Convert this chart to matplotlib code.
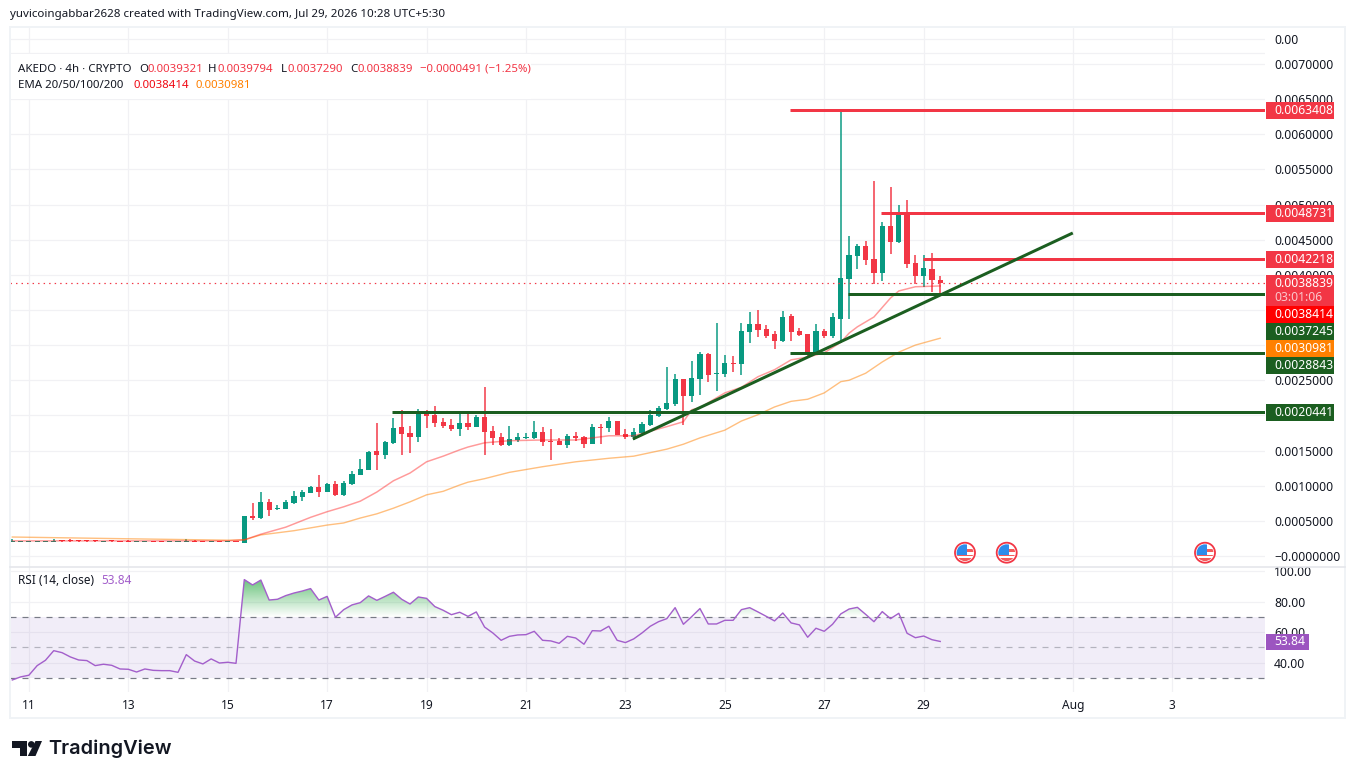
import numpy as np
import matplotlib
matplotlib.use("Agg")
import matplotlib.pyplot as plt
from matplotlib.patches import Rectangle, Circle, Polygon, PathPatch
from matplotlib.path import Path

W, H = 1355, 779
FONT = "Noto Sans"
plt.rcParams["font.family"] = [FONT, "DejaVu Sans"]
plt.rcParams["axes.unicode_minus"] = True

UNIT = 1e-5  # candle lists below are in units of 0.00001
flat_o = [20,20,20,20,20,20.5,22,22,22,22,22,20.5,22,21,21,20,20,21,21,20,20,20,21,21,20,21,20,21]
flat_c = [21,21,21,21,21,21.5,21,21,21,21,21,21.5,21,20,20,21,21,20,20,21,21,21,20,20,21,20,21,20]
flat_h = [24,21.5,21.5,21.5,21.5,24.5,22,23.5,22,22,22,21.5,22,21,23,21,21,21,21,21,21,23.5,22.5,21,21,21,21,21]
flat_l = [19.5]*28
rally_o = [19,57,54,77,67,67,75,84,90,98,91,102,87,102,115,122,149,144,161,184,175,169,203,201,191,186,181,189,184,198,178,169,158,165,168,168,176,164,164,158,171,169,159,184,182,192,174,169,175,186,199,209,216,252,228,252,287,259,259,275,273,319,330,323,316,306,341,320,316,287,320,313,337,394,427,441,422,403,469,447,486,417,398,408,393.21]
rally_h = [57,75,91,81,73,80,92,94,100,115,104,107,107,121,138,149,189,164,196,208,185,209,208,213,196,195,205,202,201,240,185,175,185,175,175,192,184,181,168,174,176,171,188,188,198,192,181,182,191,208,213,269,259,252,277,290,289,331,286,285,331,347,350,329,320,349,344,324,316,330,323,346,634.08,455,444,448,533,475,525,499,506,428,428,431,397.94]
rally_l = [19,51,53,57,65,67,74,78,90,84,91,85,85,101,115,122,122,138,159,144,147,162,182,184,182,178,171,179,184,144,158,156,156,162,166,166,156,137,158,154,164,154,159,159,176,172,166,165,174,185,198,208,213,186,219,229,248,235,255,262,257,303,312,310,294,304,306,313,283,286,310,310,303,337,408,414,387,391,430,445,410,387,383,376,372.90]
rally_c = [57,54,77,65,68,77,85,91,98,91,102,87,104,117,124,148,144,162,182,174,169,202,199,189,185,181,189,184,198,176,168,158,166,169,169,176,162,162,158,171,168,159,184,182,192,172,169,176,188,201,211,218,252,228,253,287,257,260,275,273,320,330,321,313,306,340,319,314,287,320,313,340,395,428,441,421,403,469,447,488,415,398,410,393,388.39]

ema20_k = [-28,-2,0,2,5,8,10,12,14,16,18,20,22,24,26,27,29,32,36,40,44,47,51,53,54,55,58,60,62,64,66,68,70,72,73,74,76,78,79,80,81,84]
ema20_v = [21.5,21.5,23,31,41,55,63,70,78,91,107,118,134,142,151,155,161,164,165,165,171,171,184,191,208,211,232,240,255,265,279,283,289,304,317,326,340,367,377,380,383,384.14]
ema50_k = [-28,-14,-2,0,2,6,10,12,14,16,18,20,22,24,26,27,29,32,36,40,44,47,51,53,55,58,60,62,64,66,68,70,72,73,75,77,79,81,84]
ema50_v = [27,24.5,22.5,23,30,36,44,47,54,60,68,77,87,92,101,105,110,119,127,134,139,142,152,159,168,179,192,201,212,220,223,232,248,250,260,276,290,300,309.81]

rsi_vals = [28.6,30.6,31.7,38,41.5,47.8,46.5,43.7,41.7,41.3,38,38.9,38.2,35.8,35.6,33.8,35.8,34.9,34.7,34.7,33.6,45.2,41,39.1,42.4,39.7,40.2,39.5,
            94.4,90.9,94.1,81,81.5,83.9,85.6,86.9,88.5,81,83.4,69.7,74.7,77.8,79.3,83.7,80.8,83.4,86.1,81.5,78.4,83,82.1,76.7,74.3,71.4,73,70.3,73.2,
            63.3,59.4,54.6,57.2,58.1,58.3,60.5,54.6,54.2,52.6,57.2,56.1,52,60.9,60.7,63.8,54.6,53.1,55.5,59.4,63.8,66.8,68.8,76,65.1,70.1,75.4,65.3,65.3,67.7,67.7,74.7,76,73.2,70.3,67.3,72.5,66,64.7,56.6,62.5,60.5,65.1,71.9,75.1,76.2,71.6,66.8,73.4,68.8,72.3,59.2,56.3,57.4,55,53.84]

resistance_levels = [0.0063408, 0.0048731, 0.0042218]
resistance_start = [65.9, 76.9, 81.9]
support_levels = [0.0037245, 0.0028843, 0.0020441]
support_start = [72.9, 65.9, 17.8]
trend_k = [46.9, 100.0]
trend_p = [0.001664, 0.004595]
last_price = 0.0038839

price_ticks = [0.0, 0.0005, 0.001, 0.0015, 0.002, 0.0025, 0.003, 0.0035, 0.004, 0.0045, 0.005, 0.0055, 0.006, 0.0065, 0.007, 0.00735]
price_labels = ["\u22120.0000000", "0.0005000", "0.0010000", "0.0015000", "", "0.0025000", "", "",
                "0.0040000", "0.0045000", "0.0050000", "0.0055000", "0.0060000", "0.0065000", "0.0070000", "0.00"]
rsi_ticks = [100, 80, 60, 40]
rsi_labels = ["100.00", "80.00", "60.00", "40.00"]
date_ticks = [-26, -14, -2, 10, 22, 34, 46, 58, 70, 82, 100, 112]
date_labels = ["11", "13", "15", "17", "19", "21", "23", "25", "27", "29", "Aug", "3"]

o = np.array(flat_o + rally_o) * UNIT
h = np.array(flat_h + rally_h) * UNIT
l = np.array(flat_l + rally_l) * UNIT
c = np.array(flat_c + rally_c) * UNIT
k = np.arange(-28, 85)
rsi = np.array(rsi_vals)

GREEN, RED = "#089981", "#F23645"
DKGREEN = "#1B5E20"
GRID = "#F1F1F4"
INK = "#131722"
PX = 0.72
AXFS = 8.75

fig = plt.figure(figsize=(W / 100, H / 100), dpi=100, facecolor="white")


def axes_px(x0, y0, x1, y1):
    return fig.add_axes([x0 / W, 1 - y1 / H, (x1 - x0) / W, (y1 - y0) / H])


XLIM = (-28.28, 123.2)
ax = axes_px(10, 27, 1265, 567)
ax.set_xlim(*XLIM)
ax.set_ylim((556 - 567) / 70300, (556 - 27) / 70300)
rs = axes_px(10, 567, 1265, 692)
rs.set_xlim(*XLIM)
rs.set_ylim(20.7, 102.66)

for a in (ax, rs):
    for s in a.spines.values():
        s.set_visible(False)
    a.set_axisbelow(True)
    a.grid(True, color=GRID, lw=1.2 * PX)
    a.yaxis.tick_right()
    a.set_xticks(date_ticks)

ax.tick_params(axis="x", length=0, labelbottom=False)
ax.set_yticks(price_ticks)
ax.set_yticklabels(price_labels, color=INK, fontsize=AXFS, ha="left")
ax.tick_params(axis="y", length=0, pad=6.6)
ax.axhline((556 - 53) / 70300, color=GRID, lw=1.2 * PX, zorder=0.5)

rs.set_yticks(rsi_ticks)
rs.set_yticklabels(rsi_labels, color=INK, fontsize=AXFS, ha="left")
rs.tick_params(axis="y", length=0, pad=6.6)
rs.set_xticklabels(date_labels, color=INK, fontsize=8.6)
rs.tick_params(axis="x", length=0, pad=5)
rs.get_xticklabels()[10].set_fontweight("bold")

# candles
colors = np.where(c >= o, GREEN, RED)
ax.vlines(k, l, h, colors=colors, lw=1.5 * PX, zorder=3)
min_h = 1.3 * UNIT
body_h = np.maximum(np.abs(c - o), min_h)
ax.bar(k, body_h, bottom=np.minimum(o, c), width=5.2 / 8.285, color=colors, linewidth=0, zorder=3)

# EMAs
ax.plot(ema50_k, np.array(ema50_v) * UNIT, color="#FF8000", alpha=0.5, lw=1.4 * PX, zorder=4)
ax.plot(ema20_k, np.array(ema20_v) * UNIT, color="#FF1010", alpha=0.42, lw=1.5 * PX, zorder=4)

# last price
ax.axhline(last_price, color=RED, lw=1.2 * PX, ls=(0, (1.2, 3.4)), zorder=4)

# drawings
for lv, st in zip(resistance_levels, resistance_start):
    ax.hlines(lv, st, XLIM[1], color=RED, lw=3 * PX, zorder=5)
for lv, st in zip(support_levels, support_start):
    ax.hlines(lv, st, XLIM[1], color=DKGREEN, lw=3 * PX, zorder=5)
ax.plot(trend_k, trend_p, color=DKGREEN, lw=3 * PX, zorder=5, solid_capstyle="butt")

# RSI pane
rs.axhspan(30, 70, color="#7E57C2", alpha=0.1, lw=0, zorder=1)
rs.axhline(70, color="#787B86", lw=1 * PX * 1.2, ls=(0, (5, 5)), zorder=2)
rs.axhline(50, color="#787B86", alpha=0.5, lw=1 * PX * 1.2, ls=(0, (5, 5)), zorder=2)
rs.axhline(30, color="#787B86", lw=1 * PX * 1.2, ls=(0, (5, 5)), zorder=2)
fb = rs.fill_between(k, rsi, 70, where=rsi > 70, interpolate=True, facecolor="none", edgecolor="none")
grad = np.zeros((200, 2, 4))
grad[..., 0], grad[..., 1], grad[..., 2] = 0.2, 0.68, 0.30
grad[..., 3] = np.repeat(np.linspace(0.75, 0.0, 200)[:, None], 2, axis=1)
im = rs.imshow(grad, extent=(XLIM[0], XLIM[1], 70, 95), aspect="auto", zorder=1.5, interpolation="bilinear")
im.set_clip_path(PathPatch(Path.make_compound_path(*fb.get_paths()), transform=rs.transData))
rs.set_xlim(*XLIM)
rs.set_ylim(20.7, 102.66)
rs.plot(k, rsi, color="#A35FCB", lw=1.4 * PX, zorder=3)

# overlay in pixel coordinates for labels and branding
ov = fig.add_axes([0, 0, 1, 1], zorder=10)
ov.set_xlim(0, W)
ov.set_ylim(H, 0)
ov.axis("off")
ov.patch.set_alpha(0)

ov.add_patch(Rectangle((10, 26.5), 1335, 691.5, fill=False, ec="#F0F3F6", lw=2 * PX, zorder=1))
ov.plot([10, 1345], [566.5, 566.5], color="#E4E6EB", lw=1.6 * PX, zorder=1)
ov.add_patch(Rectangle((11, 54), 520, 45, fc="white", ec="none", zorder=1))

ov.text(10, 14.5, "yuvicoingabbar2628 created with TradingView.com, Jul 29, 2026 10:28 UTC+5:30",
        fontsize=8.33, color=INK, va="center", ha="left")


def t(x, y, s, col=INK, fs=8.25, **kw):
    ov.text(x, y, s, color=col, fontsize=fs, va="center", ha="left", zorder=3, **kw)


Y1, Y2 = 69, 85.5
t(18, Y1, "AKEDO \u00b7 4h \u00b7 CRYPTO")
for x, s in [(139, "O"), (208, "H"), (281, "L"), (350, "C")]:
    t(x, Y1, s)
for x, s in [(147, "0.0039321"), (217, "0.0039794"), (288, "0.0037290"), (358, "0.0038839"),
             (420, "\u22120.0000491 (\u22121.25%)")]:
    t(x, Y1, s, RED)
t(18, Y2, "EMA 20/50/100/200")
t(133, Y2, "0.0038414", "#F00A14")
t(195, Y2, "0.0030981", "#FF8000")
t(18, 581, "RSI (14, close)", fs=8.5)
t(101, 581, "53.84", "#A35FCB", fs=8.5)


def box(y0, y1, label, col, x1=1334):
    ov.add_patch(Rectangle((1266, y0), x1 - 1266, y1 - y0, fc=col, ec="none", zorder=2))
    ov.text(1274, (y0 + y1) / 2, label, color="white", fontsize=AXFS, fontweight="medium",
            va="center", ha="left", zorder=3)


box(102.3, 119, "0.0063408", RED)
box(205, 221.7, "0.0048731", RED)
box(251, 267.7, "0.0042218", RED)
ov.add_patch(Rectangle((1266, 275), 68, 31, fc=RED, ec="none", zorder=2))
ov.text(1274, 283, "0.0038839", color="white", fontsize=AXFS, va="center", ha="left", zorder=3)
ov.text(1274, 297.5, "03:01:06", color="#FBC6CB", fontsize=AXFS, va="center", ha="left", zorder=3)
box(306, 323, "0.0038414", "#FF0000")
box(323, 340, "0.0037245", DKGREEN)
box(340, 357, "0.0030981", "#FF8000")
box(357, 374, "0.0028843", DKGREEN)
box(404, 421, "0.0020441", DKGREEN)
box(633.5, 650, "53.84", "#9C55C0", x1=1309)


def flag(cx, cy=552.7):
    clip = Circle((cx, cy), 8.4, transform=ov.transData)
    ov.add_patch(Circle((cx, cy), 10, fc="white", ec="#F23645", lw=1.8 * PX, zorder=4))
    parts = [Rectangle((cx - 9, cy + 2), 18, 1.4, fc="#F45B5B", ec="none"),
             Rectangle((cx - 9, cy + 5), 18, 4, fc="#F45B5B", ec="none"),
             Rectangle((cx + 2, cy - 4), 8, 3, fc="#F45B5B", ec="none"),
             Rectangle((cx - 9, cy - 9), 11, 11, fc="#2D8CEB", ec="none")]
    for p in parts:
        p.set_zorder(5)
        ov.add_patch(p)
        p.set_clip_path(clip)


for cx in (965, 1006.7, 1205):
    flag(cx)

# TradingView mark
LOGO = "#131722"
ov.add_patch(Polygon([(12, 741), (27, 741), (27, 756), (19.5, 756), (19.5, 747.5), (12, 747.5)], fc=LOGO, ec="none"))
ov.add_patch(Circle((31.3, 744.4), 3.3, fc=LOGO, ec="none"))
ov.add_patch(Polygon([(35.5, 741), (42, 741), (35.5, 756), (27.8, 756)], fc=LOGO, ec="none"))
ov.text(48.5, 749, "TradingView", color=LOGO, fontsize=14.4, fontweight="semibold", family="Inter",
        va="center", ha="left")

fig.savefig("out.png", dpi=100, facecolor="white")
